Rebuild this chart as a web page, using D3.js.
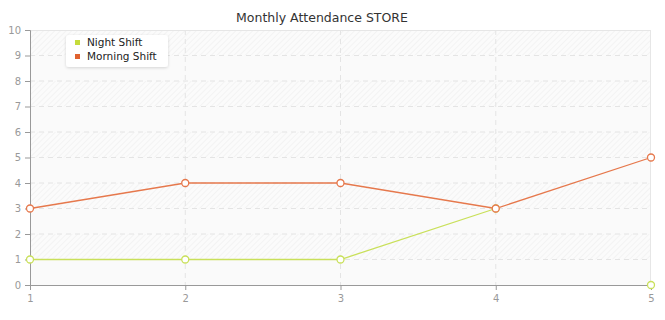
<!DOCTYPE html>
<html lang="en">
<head>
<meta charset="UTF-8">
<title>Monthly Attendance STORE</title>
<script src="https://d3js.org/d3.v7.min.js"></script>
<style>
    body { margin: 0; padding: 0; background: #fff; }
    #chart { width: 665px; height: 320px; }
    text { font-family: 'DejaVu Sans', Verdana, sans-serif; }
</style>
</head>
<body>
<div id="chart"></div>
<script>
    const months = [1, 2, 3, 4, 5];
    const yTicks = [0, 1, 2, 3, 4, 5, 6, 7, 8, 9, 10];
    // last night shift value is empty: the marker sits on 0, no segment is drawn to it
    const nightShift = [1, 1, 1, 3, null];
    const morningShift = [3, 4, 4, 3, 5];
    const seriesNames = ["Night Shift", "Morning Shift"];
    const seriesColors = ["#c5dc3b", "#e0622f"];
    const lineColors = ["#c9e05a", "#e6784c"];

    const width = 665, height = 320;
    const margin = { top: 30, right: 14, bottom: 35, left: 30 };

    const svg = d3.select("#chart").append("svg")
        .attr("width", width)
        .attr("height", height);

    const x = d3.scaleLinear().domain([1, 5]).range([margin.left, width - margin.right]);
    const y = d3.scaleLinear().domain([0, 10]).range([height - margin.bottom, margin.top]);

    // hatch pattern for background bands
    const defs = svg.append("defs");
    const pat = defs.append("pattern")
        .attr("id", "hatch")
        .attr("width", 4).attr("height", 4)
        .attr("patternUnits", "userSpaceOnUse")
        .attr("patternTransform", "rotate(45)");
    pat.append("rect").attr("width", 4).attr("height", 4).attr("fill", "#fbfbfb");
    pat.append("line").attr("x1", 0).attr("y1", 0).attr("x2", 0).attr("y2", 4)
        .attr("stroke", "#ebebeb").attr("stroke-width", 1);

    const filter = defs.append("filter").attr("id", "shadow")
        .attr("x", "-20%").attr("y", "-20%").attr("width", "140%").attr("height", "150%");
    filter.append("feDropShadow").attr("dx", 0).attr("dy", 1).attr("stdDeviation", 1.5)
        .attr("flood-color", "#000").attr("flood-opacity", 0.15);

    // bands
    svg.append("g").selectAll("rect")
        .data(yTicks.slice(0, -1))
        .enter().append("rect")
        .attr("x", margin.left)
        .attr("width", width - margin.right - margin.left)
        .attr("y", d => y(d + 1))
        .attr("height", d => y(d) - y(d + 1))
        .attr("fill", d => d % 2 === 1 ? "url(#hatch)" : "#fafafa");

    // grid
    const grid = svg.append("g");
    grid.selectAll(".hg")
        .data(yTicks.slice(1, -1))
        .enter().append("line")
        .attr("x1", margin.left).attr("x2", width - margin.right)
        .attr("y1", d => y(d)).attr("y2", d => y(d))
        .attr("stroke", "#e4e4e4").attr("stroke-dasharray", "5,4");
    grid.selectAll(".vg")
        .data(months.slice(1, -1))
        .enter().append("line")
        .attr("y1", margin.top).attr("y2", height - margin.bottom)
        .attr("x1", d => x(d)).attr("x2", d => x(d))
        .attr("stroke", "#e4e4e4").attr("stroke-dasharray", "5,4");

    // frame top/right
    svg.append("line").attr("x1", margin.left).attr("x2", width - margin.right)
        .attr("y1", margin.top + 0.5).attr("y2", margin.top + 0.5).attr("stroke", "#e6e6e6");
    svg.append("line").attr("x1", width - margin.right - 0.5).attr("x2", width - margin.right - 0.5)
        .attr("y1", margin.top).attr("y2", height - margin.bottom).attr("stroke", "#e6e6e6");

    // axes
    const yAxis = svg.append("g")
        .attr("transform", `translate(${margin.left},0)`)
        .call(d3.axisLeft(y).tickValues(yTicks).tickSize(5).tickPadding(4));
    const xAxis = svg.append("g")
        .attr("transform", `translate(0,${height - margin.bottom})`)
        .call(d3.axisBottom(x).tickValues(months).tickSize(5).tickPadding(5).tickFormat(d3.format("d")));
    [yAxis, xAxis].forEach(a => {
        a.select(".domain").attr("stroke", "#999");
        a.selectAll(".tick line").attr("stroke", "#999");
        a.selectAll("text").attr("fill", "#999").attr("font-size", "10px")
            .attr("font-family", "'DejaVu Sans', Verdana, sans-serif");
    });

    // lines
    const series = [nightShift, morningShift];
    const line = d3.line()
        .defined(d => d !== null)
        .x((d, i) => x(months[i]))
        .y(d => y(d));
    series.forEach((s, k) => {
        svg.append("path")
            .datum(s)
            .attr("fill", "none")
            .attr("stroke", lineColors[k])
            .attr("stroke-width", 1.3)
            .attr("d", line);
    });
    series.forEach((s, k) => {
        svg.append("g").selectAll("circle")
            .data(s)
            .enter().append("circle")
            .attr("cx", (d, i) => x(months[i]))
            .attr("cy", d => y(d === null ? 0 : d))
            .attr("r", 3.5)
            .attr("fill", "#fff")
            .attr("stroke", lineColors[k])
            .attr("stroke-width", 1.3);
    });

    // title
    svg.append("text")
        .attr("x", 322).attr("y", 22)
        .attr("text-anchor", "middle")
        .attr("font-size", "12.5px")
        .attr("fill", "#333")
        .text("Monthly Attendance STORE");

    // legend
    const legend = svg.append("g").attr("transform", "translate(66,35)");
    legend.append("rect")
        .attr("width", 102).attr("height", 32).attr("rx", 3)
        .attr("fill", "#fff").attr("filter", "url(#shadow)");
    seriesNames.forEach((name, k) => {
        legend.append("rect")
            .attr("x", 9).attr("y", 5 + k * 14)
            .attr("width", 5).attr("height", 5)
            .attr("fill", seriesColors[k]);
        legend.append("text")
            .attr("x", 21).attr("y", 11 + k * 14)
            .attr("font-size", "10.5px")
            .attr("fill", "#222")
            .text(name);
    });
</script>
</body>
</html>
